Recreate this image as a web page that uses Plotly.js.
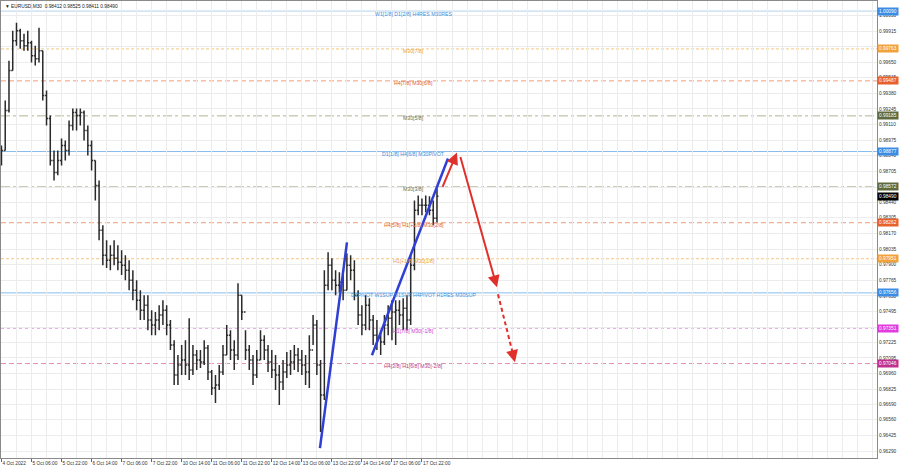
<!DOCTYPE html>
<html><head><meta charset="utf-8">
<script src="https://cdn.plot.ly/plotly-3.0.1.min.js"></script>
<style>html,body{margin:0;padding:0;background:#fff;}#chart{width:900px;height:468px;}</style>
</head><body><div id="chart"></div>
<script>
// ---- DATA (EURUSD M30, bar index on x; every 4th M30 bar aggregated) ----
const barIndex = [0,4,8,12,16,20,24,28,32,36,40,44,48,52,56,60,64,68,72,76,80,84,88,92,96,100,104,108,112,116,120,124,128,132,136,140,144,148,152,156,160,164,168,172,176,180,184,188,192,196,200,204,208,212,216,220,224,228,232,236,240,244,248,252,256,260,264,268,272,276,280,284,288,292,296,300,304,308,312,316,320,324,328,332,336,340,344,348,352,356,360,364,368,372,376,380,384,388,392,396,400,404,408,412,416,420,424,428,432,436,440,444,448,452,456,460,464];
const highs = [0.98929,0.99317,0.99662,0.99920,0.99989,0.99938,0.99895,0.99920,0.99834,0.99791,
0.99946,0.99748,0.99403,0.99188,0.98886,0.98886,0.98989,0.98972,0.99145,0.99248,
0.99248,0.99248,0.99231,0.99102,0.98972,0.98800,0.98627,0.98240,0.98110,0.98067,
0.98110,0.98067,0.98024,0.97981,0.97938,0.97852,0.97765,0.97679,0.97636,0.97636,
0.97507,0.97490,0.97550,0.97593,0.97550,0.97421,0.97248,0.97119,0.97205,0.97248,
0.97438,0.97205,0.97162,0.97162,0.97248,0.97205,0.96990,0.96947,0.97033,0.97205,
0.97378,0.97334,0.97248,0.97740,0.97636,0.97334,0.97205,0.97119,0.97162,0.97334,
0.97291,0.97205,0.97162,0.97119,0.97033,0.97076,0.97145,0.97162,0.97205,0.97179,
0.97162,0.97119,0.97291,0.97464,0.97421,0.97076,0.97852,0.98007,0.97955,0.97852,
0.97835,0.97852,0.97998,0.97981,0.97938,0.97679,0.97550,0.97636,0.97610,0.97464,
0.97421,0.97334,0.97464,0.97550,0.97593,0.97593,0.97593,0.97610,0.97636,0.97981,
0.98455,0.98498,0.98472,0.98498,0.98490,0.98455,0.98558];
const lows = [0.98757,0.98886,0.99214,0.99576,0.99791,0.99765,0.99748,0.99748,0.99645,0.99619,
0.99645,0.99317,0.99102,0.98757,0.98627,0.98671,0.98757,0.98800,0.98843,0.99058,
0.99058,0.99102,0.98972,0.98843,0.98714,0.98455,0.98110,0.97895,0.97870,0.97852,
0.97895,0.97852,0.97810,0.97765,0.97679,0.97593,0.97507,0.97421,0.97421,0.97334,
0.97291,0.97291,0.97334,0.97378,0.97291,0.97162,0.96860,0.96860,0.96947,0.96947,
0.96903,0.96947,0.96990,0.97007,0.97033,0.96903,0.96774,0.96705,0.96817,0.96947,
0.97119,0.97076,0.96990,0.97076,0.97421,0.97076,0.96990,0.96860,0.96921,0.97076,
0.97076,0.96973,0.96921,0.96817,0.96688,0.96817,0.96921,0.96947,0.96990,0.96973,
0.96947,0.96860,0.96834,0.97205,0.96947,0.96455,0.96731,0.97679,0.97679,0.97636,
0.97662,0.97593,0.97679,0.97765,0.97593,0.97378,0.97291,0.97334,0.97334,0.97205,
0.97162,0.97119,0.97205,0.97291,0.97248,0.97205,0.97378,0.97334,0.97334,0.97378,
0.97852,0.98326,0.98326,0.98352,0.98326,0.98240,0.98265];
const closes = [0.98886,0.99231,0.99576,0.99834,0.99920,0.99834,0.99791,0.99817,0.99705,0.99679,
0.99748,0.99360,0.99162,0.98800,0.98696,0.98800,0.98929,0.98886,0.99102,0.99214,
0.99188,0.99214,0.99058,0.98929,0.98800,0.98584,0.98196,0.97981,0.97938,0.97981,
0.97955,0.97921,0.97895,0.97852,0.97765,0.97679,0.97593,0.97507,0.97550,0.97421,
0.97378,0.97421,0.97464,0.97507,0.97378,0.97205,0.96947,0.97033,0.97076,0.97033,
0.96990,0.97119,0.97076,0.97059,0.97179,0.96973,0.96834,0.96860,0.96973,0.97119,
0.97291,0.97162,0.97119,0.97636,0.97490,0.97162,0.97076,0.96947,0.97076,0.97248,
0.97162,0.97059,0.96990,0.96947,0.96886,0.96973,0.97033,0.97059,0.97119,0.97076,
0.97033,0.96973,0.97162,0.97378,0.97033,0.96774,0.97722,0.97895,0.97765,0.97722,
0.97748,0.97679,0.97895,0.97852,0.97636,0.97464,0.97378,0.97550,0.97421,0.97291,
0.97266,0.97231,0.97378,0.97438,0.97490,0.97507,0.97464,0.97524,0.97421,0.97895,
0.98369,0.98412,0.98412,0.98412,0.98369,0.98300,0.98490];

const xTickVals = [0,32,64,96,128,160,192,224,256,288,320,352,384,416,448];
const xTickText = ["4 Oct 2022","5 Oct 06:00","5 Oct 22:00","6 Oct 14:00","7 Oct 06:00","7 Oct 22:00","10 Oct 14:00","11 Oct 06:00","11 Oct 22:00","12 Oct 14:00","13 Oct 06:00","13 Oct 22:00","14 Oct 14:00","17 Oct 06:00","17 Oct 22:00"];
const yTickText = ["1.00050","0.99915","0.99780","0.99650","0.99515","0.99380","0.99245","0.99110","0.98975","0.98840","0.98705","0.98570","0.98440","0.98305","0.98170","0.98035","0.97900","0.97765","0.97630","0.97495","0.97360","0.97225","0.97095","0.96960","0.96825","0.96690","0.96560","0.96425","0.96290"];

const levelPrices = [1.00090,0.99763,0.99487,0.99185,0.98877,0.98572,0.98262,0.97951,0.97656,0.97351,0.97046];
const levelLabels = ["W1[1/8] D1[2/8] H4RES M30RES","M30[7/8]","H4[7/8] M30[6/8]","M30[5/8]","D1[1/8] H4[6/8] M30PIVOT","M30[3/8]","H4[5/8] H1[+2/8] M30[2/8]","H1[+1/8] M30[1/8]","D1PIVOT W1SUP D1SUP H4PIVOT H1RES M30SUP","H1[7/8] M30[-1/8]","H4[3/8] H1[6/8] M30[-2/8]"];
const currentPrice = 0.98490;
const headerText = "EURUSD,M30  0.98412 0.98525 0.98411 0.98490";

// drawn trend lines / arrows: [barIndex, price]
const blueLine1 = [[339.3,0.96316],[368.1,0.98092]];
const blueLine2 = [[394.7,0.97118],[475.7,0.98817]];
const redArrow1 = [[469.3,0.98558],[485.3,0.98869]];
const redArrow2 = [[488.5,0.98843],[527.9,0.97704]];
const redArrow3 = [[529.0,0.97644],[547.1,0.97058]];

// ---- STYLES ----
const BLUE={line:'#86bdee',text:'#3f8fdc',box:'#3a8ce4',dash:'solid'};
const TOPB={line:'#b3d3f0',text:'#3f8fdc',box:'#3a8ce4',dash:'solid'};
const ORG ={line:'#f5c47c',text:'#eea12e',box:'#f2a23a',dash:'3px,2px'};
const RED ={line:'#ee9d78',text:'#e0602a',box:'#e8602c',dash:'5px,3px'};
const OLV ={line:'#b4b294',text:'#6b7145',box:'#5f6b3c',dash:'dashdot'};
const MAG ={line:'#e58ae5',text:'#d040d0',box:'#e03ce0',dash:'dot'};
const PNK ={line:'#d993b6',text:'#b83a88',box:'#c0308e',dash:'5px,3px'};
const levelStyle=[TOPB,ORG,RED,OLV,BLUE,OLV,RED,ORG,BLUE,MAG,PNK];

const FONT='"Liberation Sans", Arial, sans-serif';
const labelX = 439.5;

const opens = closes.map((c,i)=> i>0 ? closes[i-1] : c);

const traces = [{
  type:'ohlc', x:barIndex, open:opens, high:highs, low:lows, close:closes,
  increasing:{line:{color:'#2a2a2a',width:1.5}}, decreasing:{line:{color:'#2a2a2a',width:1.5}},
  tickwidth:0.4, hoverinfo:'skip'
}];
function seg(p,color,width,dash){
  return {type:'scatter',mode:'lines',x:[p[0][0],p[1][0]],y:[p[0][1],p[1][1]],
    line:{color:color,width:width,dash:dash},hoverinfo:'skip'};
}
traces.push(seg(blueLine1,'#2f3fd4',2.5,'solid'));
traces.push(seg(blueLine2,'#2f3fd4',2.5,'solid'));
traces.push(seg(redArrow3,'#e0302c',2,'4px,3px'));

const shapes = [];
const annotations = [];
levelPrices.forEach((p,i)=>{
  const s=levelStyle[i];
  shapes.push({type:'line',xref:'paper',x0:0,x1:1,yref:'y',y0:p,y1:p,line:{color:s.line,width:1,dash:s.dash},layer:'below'});
  annotations.push({x:labelX,y:p,xref:'x',yref:'y',text:levelLabels[i],showarrow:false,
    xanchor:'center',yanchor:'middle',yshift:-2.5,font:{family:FONT,size:5.2,color:s.text}});
  annotations.push({x:1,xref:'paper',y:p,yref:'y',xanchor:'left',yanchor:'middle',xshift:0,
    text:p.toFixed(5),showarrow:false,bgcolor:s.box,borderpad:1,font:{family:FONT,size:4.8,color:'#fff'}});
});
annotations.push({x:1,xref:'paper',y:currentPrice,yref:'y',xanchor:'left',yanchor:'middle',xshift:0,
  text:currentPrice.toFixed(5),showarrow:false,bgcolor:'#000',borderpad:1,font:{family:FONT,size:4.8,color:'#fff'}});

function arrow(p){
  return {x:p[1][0],y:p[1][1],ax:p[0][0],ay:p[0][1],xref:'x',yref:'y',axref:'x',ayref:'y',
    text:'',showarrow:true,arrowhead:2,arrowsize:1.2,arrowwidth:2,arrowcolor:'#e0302c'};
}
annotations.push(arrow(redArrow1));
annotations.push(arrow(redArrow2));
const h=redArrow3[1], t=redArrow3[0];
annotations.push(arrow([[h[0]+(t[0]-h[0])*0.15,h[1]+(t[1]-h[1])*0.15],h]));

annotations.push({xref:'paper',yref:'paper',x:0,y:1,xanchor:'left',yanchor:'top',xshift:2,yshift:-1,
  text:'▼ '+headerText,showarrow:false,font:{family:FONT,size:4.8,color:'#222'}});

const layout = {
  width:900,height:468,
  margin:{l:1,r:23,t:1,b:10,pad:0},
  paper_bgcolor:'#ffffff',plot_bgcolor:'#ffffff',
  showlegend:false,
  font:{family:FONT,size:5,color:'#333'},
  xaxis:{range:[-0.5,932.8],tickmode:'array',tickvals:xTickVals,ticktext:xTickText,tickangle:0,
    ticks:'outside',ticklen:3,tickcolor:'#666',tickfont:{family:FONT,size:4.8,color:'#333'},
    ticklabelposition:'outside right',showgrid:true,gridcolor:'#ececec',gridwidth:1,
    minor:{tick0:0,dtick:16,showgrid:true,gridcolor:'#ececec',gridwidth:1},
    zeroline:false,showline:true,linecolor:'#8a8a8a',linewidth:1,mirror:true,
    rangeslider:{visible:false},fixedrange:true,automargin:false},
  yaxis:{side:'right',range:[0.96230,1.00177],tickmode:'array',
    tickvals:yTickText.map(Number),ticktext:yTickText,ticks:'',
    tickfont:{family:FONT,size:4.8,color:'#333'},showgrid:true,gridcolor:'#ececec',gridwidth:1,
    zeroline:false,showline:true,linecolor:'#8a8a8a',linewidth:1,mirror:true,fixedrange:true,automargin:false},
  shapes:shapes,
  annotations:annotations
};
Plotly.newPlot('chart',traces,layout,{staticPlot:true,displayModeBar:false});
</script>
</body></html>
